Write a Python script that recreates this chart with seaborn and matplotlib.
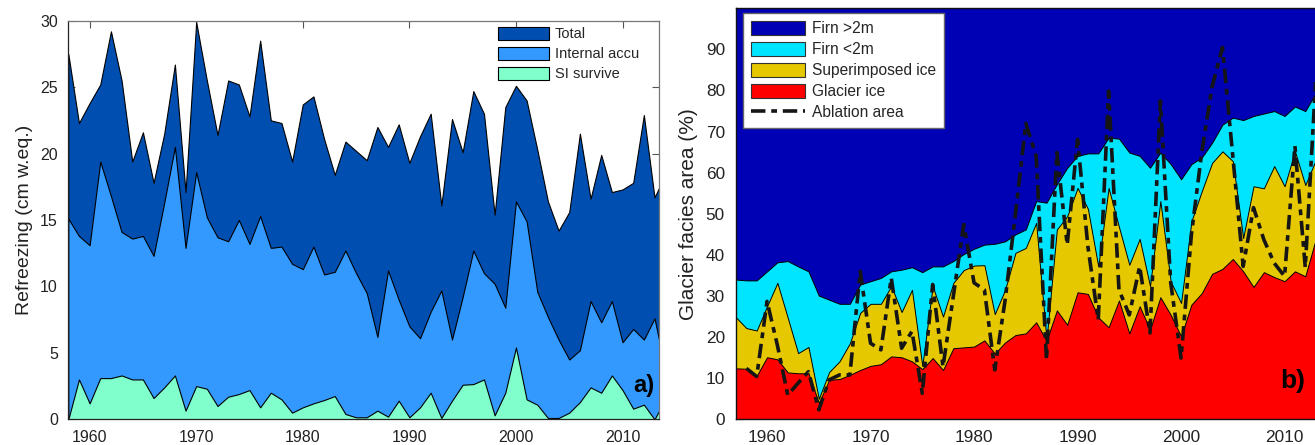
import matplotlib
matplotlib.use("Agg")
import matplotlib.pyplot as plt
import numpy as np
import pandas as pd
import seaborn as sns
from matplotlib.patches import Patch
from matplotlib.lines import Line2D

# ---------------- panel a: refreezing (cm w.eq.) ----------------
years_a = list(range(1958, 2015))
total = [27.5, 22.3, 23.8, 25.2, 29.2, 25.5, 19.4, 21.6, 17.8, 21.5, 26.7, 17.1, 29.9, 25.5, 21.4,
         25.5, 25.2, 22.8, 28.5, 22.5, 22.3, 19.4, 23.7, 24.3, 21.1, 18.4, 20.9, 20.2,
         19.5, 22.0, 20.5, 22.2, 19.3, 21.3, 23.0, 16.1, 22.6, 20.1, 24.7, 23.0, 15.4, 23.5, 25.1,
         24.0, 20.3, 16.4, 14.2, 15.6, 21.5, 16.6, 19.9, 17.1, 17.3, 17.8, 22.9, 16.7, 18.4]
internal_accu = [15.1, 13.8, 13.1, 19.4, 16.8, 14.1, 13.6, 13.8, 12.3, 16.3, 20.5, 12.9, 18.6, 15.2, 13.7,
                 13.4, 15.0, 13.2, 15.3, 12.9, 13.0, 11.7, 11.3, 13.0, 10.9, 11.1, 12.7, 11.0,
                 9.5, 6.2, 11.2, 9.0, 7.0, 6.1, 8.1, 9.7, 6.0, 9.2, 12.7, 11.0, 10.2, 8.4, 16.4,
                 14.9, 9.6, 7.7, 6.0, 4.5, 5.2, 8.9, 7.3, 8.9, 5.8, 6.8, 6.0, 7.6, 3.8]
si_survive = [0.0, 3.0, 1.2, 3.1, 3.1, 3.3, 3.0, 3.0, 1.6, 2.4, 3.3, 0.65, 2.5, 2.3, 1.0,
              1.7, 1.9, 2.2, 0.9, 2.0, 1.5, 0.5, 0.9, 1.2, 1.45, 1.75, 0.4, 0.15,
              0.15, 0.65, 0.2, 1.4, 0.15, 0.9, 2.0, 0.1, 1.4, 2.6, 2.65, 3.0, 0.3, 2.0, 5.4,
              1.5, 1.1, 0.1, 0.1, 0.5, 1.3, 2.4, 2.0, 3.3, 2.2, 0.8, 1.1, 0.0, 1.5]

# ---------------- panel b: glacier facies area (%) ----------------
years_b = list(range(1957, 2014))
glacier_ice = [12.4, 12.3, 10.6, 15.1, 14.6, 11.4, 11.2, 11.2, 4.0, 9.6, 9.8, 10.8, 12.0, 13.0,
               13.4, 15.3, 15.1, 14.1, 12.2, 14.9, 12.0, 17.3, 17.5, 17.7, 19.2, 16.0, 18.7, 20.5,
               20.9, 23.6, 19.1, 26.5, 23.0, 30.9, 30.5, 24.8, 22.4, 28.9, 20.9, 27.5, 21.8, 29.7,
               25.4, 20.2, 27.9, 30.7, 35.4, 36.6, 39.0, 36.0, 32.2, 35.8, 34.6, 33.6, 36.0, 34.8, 43.7]
superimposed_ice = [24.8, 22.2, 21.6, 27.5, 33.2, 24.7, 16.1, 17.6, 5.0, 11.5, 14.1, 18.5, 25.9, 28.1,
                    28.1, 32.4, 26.1, 31.5, 13.0, 32.4, 25.0, 33.2, 36.3, 37.4, 37.5, 25.6, 31.5, 40.5,
                    41.7, 47.8, 19.3, 46.2, 49.4, 56.3, 51.2, 37.2, 56.3, 46.8, 37.6, 43.9, 32.4, 53.1,
                    33.5, 28.3, 48.2, 55.5, 62.4, 65.2, 62.8, 44.1, 56.7, 56.2, 61.6, 56.7, 65.2, 57.0, 63.0]
firn_shallow = [34.0, 33.8, 33.8, 36.0, 38.2, 38.5, 37.2, 36.0, 30.1, 29.1, 28.1, 28.1, 32.8, 33.6,
                34.4, 36.0, 36.4, 37.0, 35.8, 37.2, 37.2, 38.5, 40.2, 41.5, 42.5, 42.7, 43.3, 45.0,
                46.2, 53.1, 52.7, 57.2, 61.2, 64.1, 64.7, 64.7, 68.5, 68.3, 64.9, 64.1, 61.2, 64.9,
                62.1, 58.4, 62.1, 63.7, 67.3, 71.7, 73.4, 72.8, 73.8, 74.4, 75.0, 73.8, 76.1, 75.0, 79.3]
firn_deep = [100.0] * len(years_b)

ablation_years = list(range(1958, 2014))
ablation_area = [12.4, 10.4, 28.7, 18.0, 5.9, 8.8, 11.6, 2.3, 9.6, 10.8, 10.8, 36.0, 18.5,
                 16.9, 34.4, 17.3, 21.4, 6.3, 32.8, 12.8, 30.0, 47.4, 33.2, 31.5, 12.0, 29.0, 50.0,
                 72.0, 64.0, 14.5, 64.9, 42.5, 68.1, 42.0, 24.2, 79.9, 31.5, 25.4, 37.2, 21.0, 77.5,
                 33.2, 14.9, 45.0, 65.0, 81.0, 90.5, 64.0, 37.2, 51.5, 43.7, 38.0, 34.8, 66.5, 37.0, 82.0]

labels_a = ["Total", "Internal accu", "SI survive"]
colors_a = ["#004EB0", "#3399FF", "#80FFCC"]
labels_b = ["Firn >2m", "Firn <2m", "Superimposed ice", "Glacier ice"]
colors_b = ["#0000B4", "#00E5FF", "#E5C800", "#FF0000"]
ablation_label = "Ablation area"

sns.set_theme(style="ticks")
plt.rcParams["font.family"] = ["Liberation Sans", "DejaVu Sans"]

W, H = 1315, 445
fig = plt.figure(figsize=(W / 100, H / 100), dpi=100)


def px_axes(x0, y0, x1, y1):
    return fig.add_axes([x0 / W, 1 - y1 / H, (x1 - x0) / W, (y1 - y0) / H])


ax_a = px_axes(68.3, 20.7, 659.3, 419.3)
ax_b = px_axes(736, 8.3, 1315, 419.3)

# ---- panel a ----
df_a = pd.DataFrame({"year": years_a, labels_a[0]: total,
                     labels_a[1]: internal_accu, labels_a[2]: si_survive})
for name, col in zip(labels_a, colors_a):
    ax_a.fill_between(df_a["year"], 0, df_a[name], facecolor=col,
                      edgecolor="black", linewidth=0.8, zorder=1)

ax_a.set_xlim(1958, 2013.45)
ax_a.set_ylim(0, 30)
ax_a.set_xticks(range(1960, 2011, 10))
ax_a.set_yticks(range(0, 31, 5))
ax_a.set_axisbelow(True)
ax_a.tick_params(direction="in", top=True, right=True, length=5, width=0.8,
                 labelsize=11.5, pad=7.5, color="#555555", labelcolor="#222222")
for side in ["top", "right"]:
    ax_a.spines[side].set_color("#777777")
for side in ["left", "bottom"]:
    ax_a.spines[side].set_color("#222222")
for sp in ax_a.spines.values():
    sp.set_linewidth(0.9)
ax_a.set_ylabel("Refreezing (cm w.eq.)", fontsize=14, color="#222222")
ax_a.yaxis.set_label_coords(-0.060, 0.5)
ax_a.set_xlabel("")
ax_a.text(0.991, 0.0685, "a)", transform=ax_a.transAxes, ha="right", va="baseline",
          fontsize=17, fontweight="bold", color="black", zorder=5)

handles_a = [Patch(facecolor=c, edgecolor="black", linewidth=0.8, label=n)
             for n, c in zip(labels_a, colors_a)]
ax_a.legend(handles=handles_a, loc="upper left", bbox_to_anchor=(492 / W, 1 - 21 / H),
            bbox_transform=fig.transFigure, frameon=False, fontsize=10.5,
            handlelength=3.5, handleheight=1.0, labelspacing=0.38, handletextpad=0.4,
            borderpad=0.4, borderaxespad=0)

# ---- panel b ----
layers_b = [firn_deep, firn_shallow, superimposed_ice, glacier_ice]
for name, col, vals in zip(labels_b, colors_b, layers_b):
    ax_b.fill_between(years_b, 0, vals, facecolor=col, edgecolor="black",
                      linewidth=0.7, zorder=1)

df_abl = pd.DataFrame({"year": ablation_years, "area": ablation_area})
sns.lineplot(data=df_abl, x="year", y="area", ax=ax_b, color="#151515",
             linewidth=2.6, legend=False, zorder=3)
dash_pattern = (4.0, 1.6, 1.6, 1.6)
ax_b.lines[-1].set_dashes(dash_pattern)

ax_b.set_xlim(1957, 2012.94)
ax_b.set_ylim(0, 100)
ax_b.set_xticks(range(1960, 2011, 10))
ax_b.set_yticks(range(0, 91, 10))
ax_b.set_axisbelow(True)
ax_b.tick_params(direction="in", top=True, right=False, length=5, width=0.8,
                 labelsize=12.4, pad=8, color="#333333", labelcolor="#222222")
ax_b.spines["right"].set_visible(False)
for side in ["left", "top", "bottom"]:
    ax_b.spines[side].set_color("#111111")
    ax_b.spines[side].set_linewidth(1.0)
ax_b.set_xlabel("")
ax_b.set_ylabel("Glacier facies area (%)", fontsize=15, color="#222222")
ax_b.yaxis.set_label_coords(-0.066, 0.5)
ax_b.text(0.983, 0.076, "b)", transform=ax_b.transAxes, ha="right", va="baseline",
          fontsize=19, fontweight="bold", color="black", zorder=5)

handles_b = [Patch(facecolor=c, edgecolor="#333333", linewidth=0.8, label=n)
             for n, c in zip(labels_b, colors_b)]
handles_b.append(Line2D([0], [0], color="#151515", linewidth=2.6,
                        dashes=dash_pattern, label=ablation_label))
leg_b = ax_b.legend(handles=handles_b, loc="upper left", bbox_to_anchor=(743 / W, 1 - 13 / H),
                    bbox_transform=fig.transFigure, frameon=True, fancybox=False,
                    framealpha=1, fontsize=11.2, handlelength=3.5, handleheight=1.0,
                    labelspacing=0.37, handletextpad=0.45, borderpad=0.5, borderaxespad=0)
leg_b.get_frame().set_edgecolor("#666666")
leg_b.get_frame().set_linewidth(1.0)
leg_b.get_frame().set_facecolor("white")

fig.savefig("out.png", dpi=100)
